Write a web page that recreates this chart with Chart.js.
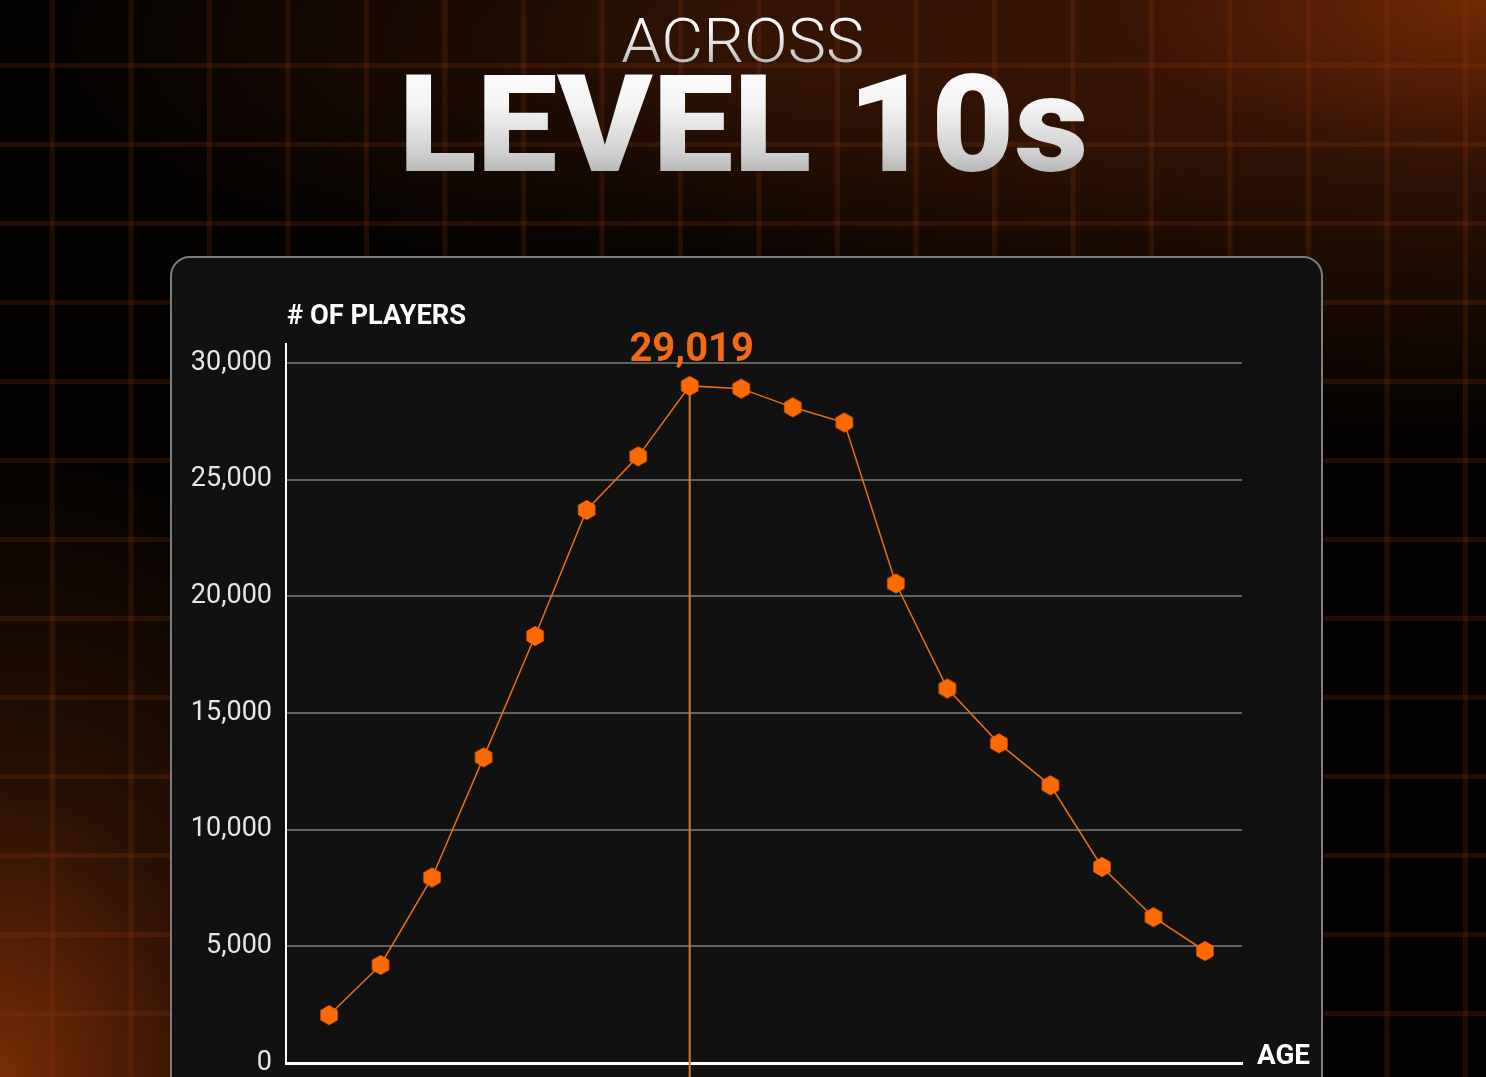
<!DOCTYPE html>
<html>
<head>
<meta charset="utf-8">
<script src="https://cdn.jsdelivr.net/npm/chart.js@4/dist/chart.umd.min.js"></script>
<style>
  html, body { margin: 0; padding: 0; }
  body {
    width: 1486px; height: 1077px; overflow: hidden; position: relative;
    background-color: #050302;
    font-family: Roboto, "Noto Sans", sans-serif;
  }
  #bg {
    position: absolute; left: 0; top: 0; width: 1486px; height: 1077px;
    background:
      radial-gradient(ellipse 950px 430px at 1486px 0px, rgba(120,45,5,0.95) 0%, rgba(80,28,4,0.55) 40%, rgba(0,0,0,0) 100%),
      radial-gradient(ellipse 480px 620px at 0px 1077px, rgba(125,48,6,0.95) 0%, rgba(80,30,4,0.5) 45%, rgba(0,0,0,0) 100%),
      radial-gradient(ellipse 700px 240px at 760px 40px, rgba(60,22,4,0.75) 0%, rgba(0,0,0,0) 100%),
      #050302;
  }
  #grid {
    position: absolute; left: 0; top: 0; width: 1486px; height: 1077px;
    background-image:
      linear-gradient(to right, rgba(150,55,12,0.2) 0px, rgba(150,55,12,0.2) 5px, transparent 5px),
      linear-gradient(to bottom, rgba(150,55,12,0.2) 0px, rgba(150,55,12,0.2) 5px, transparent 5px);
    background-size: 78.5px 100%, 100% 79px;
    background-position: 50px 0px, 0px 63px;
  }
  .title {
    position: absolute; left: 0; width: 1486px; text-align: center; line-height: 1;
    white-space: nowrap;
  }
  .title span {
    display: inline-block;
    background: linear-gradient(to bottom, #ffffff 0%, #f4f4f4 35%, #d0d0d0 70%, #9c9c9c 100%);
    -webkit-background-clip: text; background-clip: text; color: transparent;
  }
  #t1 { top: 10px; font-size: 62px; font-weight: 300; }
  #t2 { top: 57px; font-size: 136px; font-weight: 900; }
  #card {
    position: absolute; left: 170px; top: 256px; width: 1149px; height: 900px;
    background: #111111; border: 2px solid #7c7c7c; border-radius: 20px;
  }
  .axlabel {
    position: absolute; color: #ffffff; font-weight: 700; font-size: 28px; line-height: 1;
    white-space: nowrap; transform-origin: 0 0;
  }
  #ylab { left: 287px; top: 301px; }
  #xlab { left: 1257px; top: 1041px; }
  #c { position: absolute; left: 0; top: 0; }
</style>
</head>
<body>
<div id="bg"></div>
<div id="grid"></div>
<div class="title" id="t1"><span id="t1s">ACROSS</span></div>
<div class="title" id="t2"><span id="t2s">LEVEL 10s</span></div>
<div id="card"></div>
<div class="axlabel" id="ylab"># OF PLAYERS</div>
<div class="axlabel" id="xlab">AGE</div>
<canvas id="c" width="1486" height="1077"></canvas>
<script>
// ---- data ----
const ageIndex = [1, 2, 3, 4, 5, 6, 7, 8, 9, 10, 11, 12, 13, 14, 15, 16, 17, 18];
const players = [2050, 4200, 7950, 13100, 18300, 23700, 26000, 29019, 28900, 28100, 27450, 20550, 16050, 13700, 11900, 8400, 6250, 4800];
const yTicks = [0, 5000, 10000, 15000, 20000, 25000, 30000];
const yAxisTitle = '# OF PLAYERS';
const xAxisTitle = 'AGE';

// ---- fit text widths ----
function fitWidth(el, target) {
  const w = el.getBoundingClientRect().width;
  if (w > 0) {
    el.style.transform = 'scaleX(' + (target / w) + ')';
  }
}
document.getElementById('ylab').textContent = yAxisTitle;
document.getElementById('xlab').textContent = xAxisTitle;
const t1s = document.getElementById('t1s'), t2s = document.getElementById('t2s');
t1s.style.transformOrigin = '50% 50%'; t2s.style.transformOrigin = '50% 50%';
fitWidth(t1s, 243);
fitWidth(t2s, 690);
fitWidth(document.getElementById('ylab'), 179);
fitWidth(document.getElementById('xlab'), 53);

// ---- hexagon marker ----
function hexagon(color, r) {
  const w = Math.ceil(2 * r * Math.cos(Math.PI / 6)) + 2, h = Math.ceil(2 * r) + 2;
  const cv = document.createElement('canvas');
  cv.width = w; cv.height = h;
  const g = cv.getContext('2d');
  g.fillStyle = color;
  g.beginPath();
  for (let k = 0; k < 6; k++) {
    const a = -Math.PI / 2 + k * Math.PI / 3;
    const px = w / 2 + r * Math.cos(a), py = h / 2 + r * Math.sin(a);
    if (k === 0) g.moveTo(px, py); else g.lineTo(px, py);
  }
  g.closePath(); g.fill();
  return cv;
}
const hex = hexagon('#ff6a00', 10);

function peakIndex() {
  let mi = 0;
  players.forEach((v, i) => { if (v > players[mi]) mi = i; });
  return mi;
}

const peakPlugin = {
  id: 'peak',
  beforeDatasetsDraw(chart) {
    const p = chart.getDatasetMeta(0).data[peakIndex()];
    const ctx = chart.ctx;
    ctx.save();
    ctx.strokeStyle = '#d8782f';
    ctx.lineWidth = 2;
    ctx.beginPath();
    ctx.moveTo(p.x, p.y);
    ctx.lineTo(p.x, chart.height);
    ctx.stroke();
    // y axis extension above the top
    ctx.strokeStyle = '#ffffff';
    ctx.lineWidth = 2;
    ctx.beginPath();
    ctx.moveTo(chart.chartArea.left, chart.chartArea.top - 20);
    ctx.lineTo(chart.chartArea.left, chart.chartArea.top);
    ctx.stroke();
    ctx.restore();
  },
  afterDatasetsDraw(chart) {
    const mi = peakIndex();
    const p = chart.getDatasetMeta(0).data[mi];
    const ctx = chart.ctx;
    ctx.save();
    ctx.fillStyle = '#f26a14';
    ctx.font = 'bold 40px Roboto, "Noto Sans", sans-serif';
    ctx.textAlign = 'center';
    ctx.textBaseline = 'alphabetic';
    ctx.fillText(players[mi].toLocaleString('en-US'), p.x + 2, p.y - 25);
    ctx.restore();
  }
};

new Chart(document.getElementById('c'), {
  type: 'line',
  data: {
    datasets: [{
      data: ageIndex.map((a, i) => ({ x: a, y: players[i] })),
      borderColor: '#e8701c',
      borderWidth: 1.5,
      tension: 0,
      pointStyle: hex,
      pointRadius: 9,
      pointHoverRadius: 9,
      fill: false
    }]
  },
  options: {
    responsive: false,
    animation: false,
    locale: 'en-US',
    layout: { padding: { top: 363, right: 244, bottom: 0, left: 0 } },
    plugins: { legend: { display: false }, tooltip: { enabled: false } },
    scales: {
      x: {
        type: 'linear',
        min: 0.1655,
        max: 18.718,
        grid: { display: false },
        border: { display: true, color: '#ffffff', width: 3 },
        ticks: { display: false },
        afterFit(s) { s.height = 14; s.paddingLeft = 0; s.paddingRight = 0; }
      },
      y: {
        min: yTicks[0],
        max: yTicks[yTicks.length - 1],
        afterBuildTicks(s) { s.ticks = yTicks.map(v => ({ value: v })); },
        grid: {
          drawTicks: false,
          color: (c) => (c.tick && c.tick.value === 0) ? 'rgba(0,0,0,0)' : '#626262',
          lineWidth: 2
        },
        border: { display: true, color: '#ffffff', width: 2 },
        ticks: {
          padding: 14,
          color: '#e6e6e6',
          font: { family: 'Roboto, "Noto Sans", sans-serif', size: 27, weight: 400 },
          callback: (v) => Number(v).toLocaleString('en-US')
        },
        afterFit(s) { s.width = 286; s.paddingTop = 0; s.paddingBottom = 0; }
      }
    }
  },
  plugins: [peakPlugin]
});
</script>
</body>
</html>
